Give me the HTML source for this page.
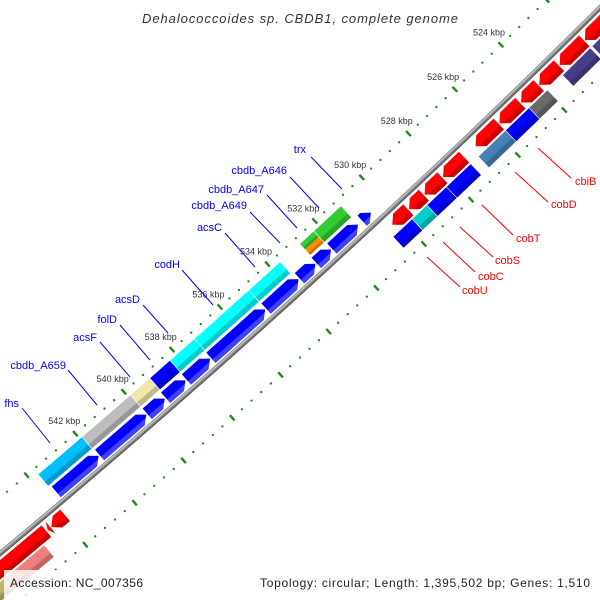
<!DOCTYPE html>
<html><head><meta charset="utf-8"><style>
html,body{margin:0;padding:0;background:#fff;width:600px;height:600px;overflow:hidden;}
svg{display:block;font-family:"Liberation Sans",sans-serif;overflow:hidden;}
</style></head><body>
<svg id="map" width="600" height="600" viewBox="0 0 600 600" xmlns="http://www.w3.org/2000/svg">
<rect x="0" y="0" width="600" height="600" fill="#fff"/>
<defs id="defs"></defs>
<g id="rings"></g>
<g id="backbone"></g>
<g id="features"></g>
<g id="ticklabels"></g>
<g font-size="11" fill="#0000ff" stroke-width="1">
 <line x1="311" y1="157" x2="342" y2="189" stroke="#0000ff"/>
 <text x="306" y="153" text-anchor="end">trx</text>
 <line x1="290" y1="177" x2="319" y2="208" stroke="#0000ff"/>
 <text x="287" y="174" text-anchor="end">cbdb_A646</text>
 <line x1="267" y1="195" x2="297" y2="228" stroke="#0000ff"/>
 <text x="264" y="193" text-anchor="end">cbdb_A647</text>
 <line x1="250" y1="212" x2="280" y2="243" stroke="#0000ff"/>
 <text x="247" y="209" text-anchor="end">cbdb_A649</text>
 <line x1="225" y1="233" x2="255" y2="267" stroke="#0000ff"/>
 <text x="222" y="231" text-anchor="end">acsC</text>
 <line x1="182" y1="270" x2="213" y2="305" stroke="#0000ff"/>
 <text x="180" y="268" text-anchor="end">codH</text>
 <line x1="143" y1="305" x2="168" y2="333" stroke="#0000ff"/>
 <text x="140" y="303" text-anchor="end">acsD</text>
 <line x1="120" y1="325" x2="150" y2="360" stroke="#0000ff"/>
 <text x="117" y="323" text-anchor="end">folD</text>
 <line x1="100" y1="342" x2="130" y2="377" stroke="#0000ff"/>
 <text x="97" y="341" text-anchor="end">acsF</text>
 <line x1="68" y1="370" x2="97" y2="405" stroke="#0000ff"/>
 <text x="66" y="369" text-anchor="end">cbdb_A659</text>
 <line x1="22" y1="408" x2="50" y2="443" stroke="#0000ff"/>
 <text x="19" y="407" text-anchor="end">fhs</text>
</g>
<g font-size="11" fill="#ff0000">
 <line x1="538" y1="148" x2="571" y2="178" stroke="#ff0000"/>
 <text x="575" y="185">cbiB</text>
 <line x1="515" y1="172" x2="548" y2="202" stroke="#ff0000"/>
 <text x="551" y="208">cobD</text>
 <line x1="482" y1="205" x2="513" y2="235" stroke="#ff0000"/>
 <text x="516" y="242">cobT</text>
 <line x1="460" y1="227" x2="493" y2="257" stroke="#ff0000"/>
 <text x="495" y="264">cobS</text>
 <line x1="443" y1="242" x2="475" y2="272" stroke="#ff0000"/>
 <text x="478" y="280">cobC</text>
 <line x1="427" y1="257" x2="460" y2="287" stroke="#ff0000"/>
 <text x="462" y="294">cobU</text>
</g>
<text x="142" y="23" font-size="13" font-style="italic" fill="#333" textLength="316" lengthAdjust="spacing">Dehalococcoides sp. CBDB1, complete genome</text>
<rect x="4" y="570" width="142" height="30" fill="#fff" fill-opacity="0.82"/>
<text x="10" y="587" font-size="12" fill="#222" textLength="133" lengthAdjust="spacing">Accession: NC_007356</text>
<rect x="255" y="570" width="345" height="30" fill="#fff" fill-opacity="0.82"/>
<text x="260" y="587" font-size="12" fill="#222" textLength="330" lengthAdjust="spacing">Topology: circular; Length: 1,395,502 bp; Genes: 1,510</text>
</svg>
<script>
// ---- data (kbp) ----
const tickKbp = [518,520,522,524,526,528,530,532,534,536,538,540,542,544,546,548];
const tickLabels = ["524 kbp","526 kbp","528 kbp","530 kbp","532 kbp","534 kbp","536 kbp","538 kbp","540 kbp","542 kbp"];
const tickLabelKbp = [524,526,528,530,532,534,536,538,540,542];
const revArrowStart = [530.95,531.09,532.23,532.89,533.6,535.0,537.3,538.32,539.18,539.94,541.9];
const revArrowStop  = [530.54,532.23,532.89,533.6,535.0,537.3,538.32,539.18,539.94,541.9,543.67];
const fwdArrowStart = [519.5,521.0,522.03,523.13,524.01,524.8,525.73,527.22,528.15,528.94,529.6,543.86,544.45,544.62];
const fwdArrowEnd   = [521.0,522.03,523.13,524.01,524.8,525.73,526.76,528.15,528.94,529.6,530.31,544.45,544.6,549.0];
const revColStart = [531.07,532.23,532.23,533.65,534.97,537.24,538.26,539.1,539.9,541.9];
const revColEnd   = [532.23,532.82,532.82,534.97,537.24,538.26,539.1,539.9,541.9,543.7];
const revColColor = ["#32cd32","#32cd32","#ff8c00","#00ffff","#00ffff","#00ffff","#0000ff","#eee8aa","#bebebe","#00bfff"];
const revColPart  = [0,1,2,0,0,0,0,0,0,0];
const fwdColStart = [520.3,522.07,523.93,524.73,525.74,527.23,528.27,529.1,529.73,544.97,546.6];
const fwdColEnd   = [522.0,523.28,524.73,525.74,526.91,528.27,529.1,529.73,530.54,546.6,549.0];
const fwdColColor = ["#483d8b","#483d8b","#696969","#0000ff","#4682b4","#0000ff","#0000ff","#00cdcd","#0000ff","#f08080","#bdb76b"];

// ---- geometry ----
const CX=-5933, CY=-6569, R=9270;
function pt(k,r){const a=(45.79+0.1989*(k-524))*Math.PI/180;return [CX+(R+r)*Math.cos(a),CY+(R+r)*Math.sin(a)];}
const NS="http://www.w3.org/2000/svg";
function mk(tag,attrs,parent){const e=document.createElementNS(NS,tag);for(const a in attrs)e.setAttribute(a,attrs[a]);parent.appendChild(e);return e;}
function shade(hex,f){const n=parseInt(hex.slice(1),16);let r=n>>16,g=(n>>8)&255,b=n&255;
 if(f<0){r=Math.round(r*(1+f));g=Math.round(g*(1+f));b=Math.round(b*(1+f));}
 else{r=Math.round(r+(255-r)*f);g=Math.round(g+(255-g)*f);b=Math.round(b+(255-b)*f);}
 return "rgb("+r+","+g+","+b+")";}
const defs=document.getElementById('defs');
let gid=0;
function grad(k,r1,r2,c1,c2){const id="g"+(gid++);const p1=pt(k,r1),p2=pt(k,r2);
 const g=mk('linearGradient',{id:id,gradientUnits:'userSpaceOnUse',x1:p1[0],y1:p1[1],x2:p2[0],y2:p2[1]},defs);
 mk('stop',{offset:'0',  'stop-color':c1},g);mk('stop',{offset:'0.62','stop-color':c1},g);
 mk('stop',{offset:'0.68','stop-color':c2},g);mk('stop',{offset:'1','stop-color':c2},g);return "url(#"+id+")";}
function arcPts(k1,k2,r,n){const a=[];for(let i=0;i<=n;i++){a.push(pt(k1+(k2-k1)*i/n,r));}return a;}
function shapePts(k1,k2,r1,r2,tip){const h=Math.min(0.25,k2-k1);const rm=(r1+r2)/2;let P=[];
 if(tip===1){P=P.concat(arcPts(k1,k2-h,r1,6));P.push(pt(k2,rm));P=P.concat(arcPts(k2-h,k1,r2,6));}
 else if(tip===-1){P=P.concat(arcPts(k1+h,k2,r1,6));P=P.concat(arcPts(k2,k1+h,r2,6));P.push(pt(k1,rm));}
 else{P=P.concat(arcPts(k1,k2,r1,6));P=P.concat(arcPts(k2,k1,r2,6));}
 return P.map(p=>p[0].toFixed(2)+","+p[1].toFixed(2)).join(" ");}

// ---- tick rings ----
const rings=document.getElementById('rings');
const ringR=[-43,48];
for(const rr of ringR){
 for(let i=0;i<=75;i++){const k=518+i*0.4;if(i%5===0)continue;const p=pt(k,rr);
  if(p[1]>600||p[1]<0)continue;
  const d=mk('circle',{cx:p[0].toFixed(2),cy:p[1].toFixed(2),r:1.15,fill:'#228b22'},rings);
  
  }
 for(const k of tickKbp){const a=pt(k,rr-3.5),b=pt(k,rr+3.5);
  const l=mk('line',{x1:a[0],y1:a[1],x2:b[0],y2:b[1],stroke:'#1e8c1e','stroke-width':2.4},rings);
  
  }
}
const tl=document.getElementById('ticklabels');
tickLabelKbp.forEach((k,i)=>{const p=pt(k,-60);
 const t=mk('text',{x:p[0].toFixed(1),y:(p[1]+3).toFixed(1),'text-anchor':'middle','font-size':9,fill:'#333'},tl);
 t.textContent=tickLabels[i];
 
 });

// ---- backbone ----
const bb=document.getElementById('backbone');
function poly(r,stroke,w,name){const p=arcPts(518,547.5,r,60).map(q=>q[0].toFixed(2)+","+q[1].toFixed(2)).join(" ");
 const e=mk('polyline',{points:p,fill:'none',stroke:stroke,'stroke-width':w},bb);
 
 }
poly(0,'#808080',5,'backbone-line');
poly(-1,'#bdbdbd',1.6,'backbone-highlight');
poly(1.8,'#5a5a5a',1,'backbone-shadow');

// ---- features ----
const fg=document.getElementById('features');
function feature(k1,k2,r1,r2,tip,color,name,light){
 const km=(k1+k2)/2;const c2=light?shade(color,0.25):shade(color,-0.2);
 const e=mk('polygon',{points:shapePts(k1,k2,r1,r2,tip),fill:grad(km,r1,r2,color,c2)},fg);
 
 }
revArrowStop.forEach((s,i)=>{const a=revArrowStart[i];const lo=Math.min(a,s),hi=Math.max(a,s);
 feature(lo,hi-0.04,-18,-4,-1,'#0000ff','reverse-gene-arrow',true);});
fwdArrowStart.forEach((s,i)=>{feature(s+0.03,fwdArrowEnd[i],5,20,1,'#ff0000','forward-gene-arrow',false);});
revColStart.forEach((s,i)=>{let r1=-36,r2=-21;if(revColPart[i]===1){r2=-28.5;}else if(revColPart[i]===2){r1=-28.5;}
 feature(s+0.02,revColEnd[i],r1,r2,0,revColColor[i],'reverse-cog-block',false);});
fwdColStart.forEach((s,i)=>{feature(s+0.02,fwdColEnd[i],22,37,0,fwdColColor[i],'forward-cog-block',false);});
</script>
</body></html>
